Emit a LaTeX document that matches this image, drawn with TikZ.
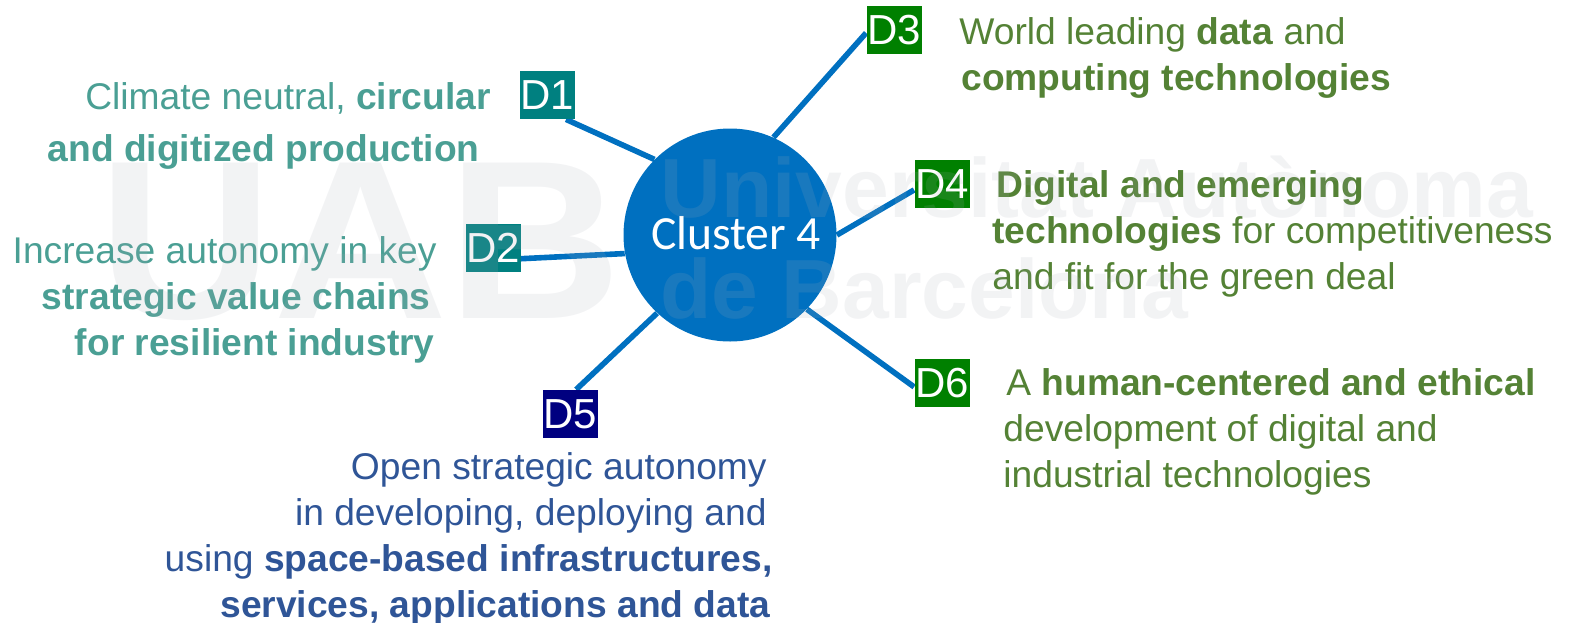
\documentclass[tikz,border=0pt]{standalone}
\usepackage{fontspec}
\setmainfont{Liberation Sans}
\newfontfamily\clusterfont{Carlito}
\usetikzlibrary{shapes,calc,backgrounds}
\definecolor{clusterblue}{HTML}{0070C0}
\definecolor{boxteal}{HTML}{008080}
\definecolor{boxgreen}{HTML}{008000}
\definecolor{boxnavy}{HTML}{000080}
\definecolor{textteal}{HTML}{4A9F94}
\definecolor{textgreen}{HTML}{548235}
\definecolor{textblue}{HTML}{2F5597}
\definecolor{markgray}{HTML}{A9AEB8}

\begin{document}
\begin{tikzpicture}[x=0.5pt,y=-0.5pt]
\tikzset{hub/.style={draw=none,circle,fill=clusterblue,minimum size=106.5pt,inner sep=0pt,text=white,font=\clusterfont\fontsize{23.8}{26}\selectfont}}
\tikzset{tagbox/.style={rectangle,minimum width=27.5pt,minimum height=24pt,inner sep=0pt,text=white,font=\fontsize{21}{24}\selectfont}}
\tikzset{spoke/.style={draw=clusterblue,line width=2.8pt}}
\tikzset{blurb/.style={inner sep=0pt,font=\fontsize{18.6}{23}\selectfont}}
\tikzset{watermark/.style={inner sep=0pt,anchor=base west,text=markgray,text opacity=0.15,font=\bfseries\fontsize{42}{42}\selectfont}}

\useasboundingbox (0,0) rectangle (1571,622);

%% Hub and tags
\node[hub] at (730,235) (c4) {\hspace*{6pt}\raisebox{2.5pt}{Cluster 4}};
\node[tagbox,fill=boxteal] at (547,95) (d1) {D1};
\node[tagbox,fill=boxteal] at (493,248) (d2) {D2};
\node[tagbox,fill=boxgreen] at (894,30) (d3) {D3};
\node[tagbox,fill=boxgreen] at (942,184) (d4) {D4};
\node[tagbox,fill=boxnavy] at (570,414) (d5) {D5};
\node[tagbox,fill=boxgreen] at (942,383) (d6) {D6};

\begin{scope}[on background layer]
  \draw[spoke] (d1.-52) -- (c4.135);
  \draw[spoke] (d2.-21) -- (c4.190);
  \draw[spoke] (d3.186) -- (c4.66);
  \draw[spoke] (d4.192) -- (c4.0);
  \draw[spoke] (d5.76) -- (c4.227);
  \draw[spoke] (d6.188) -- (c4.-44);
\end{scope}

%% Left blurbs
\begin{scope}[text=textteal]
  \node[blurb,anchor=north east,align=right] at (491,82) (t1) {Climate neutral, \textbf{circular}\\[3pt]
    \textbf{and digitized production}\hspace*{5.5pt}\mbox{}};
  \node[blurb,anchor=north east,align=right] at (437,236) (t2) {Increase autonomy in key\\
    \textbf{strategic value chains}\hspace*{3pt}\mbox{}\\
    \textbf{for resilient industry}\hspace*{1pt}\mbox{}};
\end{scope}

\node[blurb,text=textblue,anchor=north east,align=right] at (773,452) (t5) {Open strategic autonomy\hspace*{3pt}\mbox{}\\
    in developing, deploying and\hspace*{3pt}\mbox{}\\
    using \textbf{space-based infrastructures,}\\
    \textbf{services, applications and data}\hspace*{1pt}\mbox{}};

%% Right blurbs
\begin{scope}[text=textgreen]
  \node[blurb,anchor=north west,align=left] at (959,17) (t3) {World leading \textbf{data} and\\
    \hspace*{1pt}\textbf{computing technologies}};
  \node[blurb,anchor=north west,align=left] at (992,170) (t4) {\hspace*{2pt}\textbf{Digital and emerging}\\
    \textbf{technologies} for competitiveness\\
    and fit for the green deal};
  \node[blurb,anchor=north west,align=left] at (1003,368) (t6) {\hspace*{1.5pt}A \textbf{human-centered and ethical}\\
    development of digital and\\
    industrial technologies};
\end{scope}

%% Faint mark
\node[watermark,font=\bfseries\fontsize{113}{113}\selectfont,xscale=1.07] at (98,318) (markuab) {UAB};
\node[watermark] at (660,217) (markname) {Universitat Autònoma};
\node[watermark] at (660,318) (markcity) {de Barcelona};
\end{tikzpicture}
\end{document}
